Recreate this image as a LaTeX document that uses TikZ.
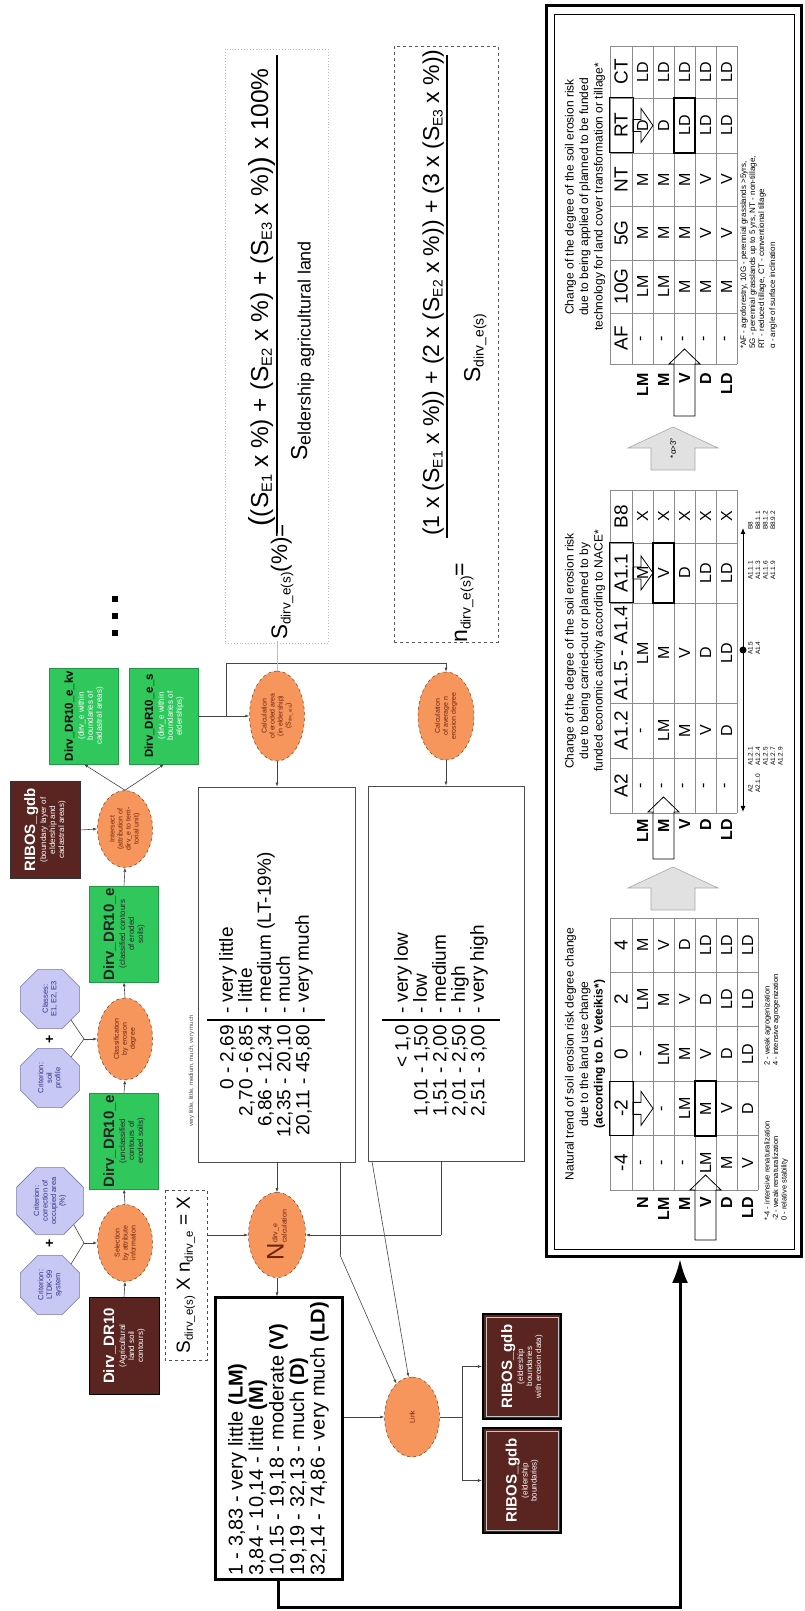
\documentclass[tikz,border=0pt]{standalone}
\usepackage{fontspec}
\setmainfont{Liberation Sans}
\usepackage{graphicx}
\usetikzlibrary{shapes.geometric,arrows.meta,calc}
\definecolor{brn}{RGB}{90,36,32}
\definecolor{grn}{RGB}{48,200,92}
\definecolor{org}{RGB}{247,150,92}
\definecolor{orgd}{RGB}{120,60,30}
\definecolor{lav}{RGB}{200,200,245}
\definecolor{lavd}{RGB}{120,120,170}
\definecolor{octtxt}{RGB}{50,50,130}
\definecolor{elltxt}{RGB}{110,35,10}
\definecolor{conncol}{RGB}{70,70,70}
\definecolor{tgridc}{RGB}{140,140,140}
\definecolor{garrow}{RGB}{225,225,225}
\newcommand{\fsz}[2]{\fontsize{#1}{#2}\selectfont}
\newcommand{\lsub}[2][0.6]{\raisebox{-0.3ex}{\scalebox{#1}{#2}}}
\tikzset{
 brownbox/.style={draw=black, line width=0.8pt, fill=brn, text=white, align=center, minimum width=97, minimum height=70, inner sep=1pt, font=\fsz{8}{9}},
 greenbox/.style={draw=grn!75!black, line width=0.6pt, fill=grn, text=black!85, align=center, minimum width=96, minimum height=69, inner sep=1pt, font=\fsz{8}{9}},
 octnode/.style={regular polygon, regular polygon sides=8, minimum size=64, fill=lav, draw=lavd, line width=0.6pt, text=octtxt, align=center, inner sep=0pt, font=\fsz{7.5}{8.5}},
 ellnode/.style={ellipse, fill=org, draw=orgd, dashed, line width=0.5pt, text=elltxt, align=center, inner sep=0pt, font=\fsz{7}{8}},
 conn/.style={draw=conncol, line width=0.6pt},
 arr/.style={conn, -{Latex[length=4pt,width=3pt]}},
 tgrid/.style={draw=tgridc, line width=0.6pt},
 cellt/.style={font=\fsz{16}{16}, inner sep=0pt},
 headt/.style={font=\fsz{19}{19}, inner sep=0pt},
 rowlab/.style={font=\bfseries\fsz{16}{16}, anchor=east, inner sep=0pt},
 hollow/.style={draw=black, line width=0.8pt},
 smallnote/.style={font=\fsz{7.5}{8.5}, align=left, anchor=north west, inner sep=0pt},
 formula/.style={anchor=base west, inner sep=0pt, font=\fsz{23}{23}},
}
\begin{document}
\begin{tikzpicture}
\begin{scope}[x=1pt,y=-1pt,rotate=90,transform shape]
\fill[white] (0,0) rectangle (1611,804);
\useasboundingbox (0,0) rectangle (1611,804);

% ---------- octagons ----------
\node[octnode] (oltdk) at (326,50) {Criterion:\\LTDK-99\\system};
\node[octnode] (ocorr) at (410,50) {Criterion:\\correction of\\occupied area\\(\%)};
\node[font=\bfseries\fsz{14}{14}, inner sep=0pt] (plus1) at (368,50) {+};
\node[octnode] (osoil) at (533,50) {Criterion:\\soil\\profile};
\node[octnode] (oclass) at (612,50) {Classes:\\E1, E2, E3};
\node[font=\bfseries\fsz{14}{14}, inner sep=0pt] (plus2) at (572,50) {+};
\coordinate (j1) at (368,84);
\coordinate (j2) at (572,84);

% ---------- main flow row ----------
\node[brownbox] (dr10) at (265,124) {{\bfseries\fsz{15}{17}Dirv\_DR10}\\[2pt](Agricultural\\land soil\\contours)};
\node[ellnode, minimum width=77, minimum height=55] (sel) at (368,125) {Selection\\by attribute\\information};
\node[greenbox] (eun) at (470,124) {{\bfseries\fsz{15}{17}Dirv\_DR10\_e}\\[2pt](unclassified\\contours of\\eroded soils)};
\node[ellnode, minimum width=82, minimum height=55] (cls) at (572,125) {Classification\\by erosion\\degree};
\node[greenbox] (ecl) at (677,124) {{\bfseries\fsz{15}{17}Dirv\_DR10\_e}\\[2pt](classified contours\\of eroded\\soils)};
\node[ellnode, minimum width=77, minimum height=55] (inter) at (782,125) {Intersect\\(attribution of\\dirv\_e to terri-\\torial unit)};
\node[brownbox, draw=black!80] (rib) at (781,45) {{\bfseries\fsz{15}{17}RIBOS\_gdb}\\[2pt](boundary layer of\\eldership and\\cadastral areas)};
\node[greenbox, text=white] (kv) at (895,84) {{\bfseries\fsz{11.5}{13}\color{black}Dirv\_DR10\_e\_kv}\\[2pt](dirv\_e within\\boundaries of\\cadastral areas)};
\node[greenbox, text=white] (es) at (895,164) {{\bfseries\fsz{11.5}{13}\color{black}Dirv\_DR10\_e\_s}\\[2pt](dirv\_e within\\boundaries of\\elderships)};
\fill (975,112) rectangle (981,118);
\fill (992,112) rectangle (998,118);
\fill (1009,112) rectangle (1015,118);

\draw[arr] (dr10.east) -- (sel.west);
\draw[arr] (sel.east) -- (eun.west);
\draw[arr] (eun.east) -- (cls.west);
\draw[arr] (cls.east) -- (ecl.west);
\draw[arr] (ecl.east) -- (inter.west);
\draw[arr] (rib.south) -- (inter.north);
\draw[arr] (inter.east) -- (kv.west);
\draw[arr] (inter.east) -- (es.west);
\draw[conn] (oltdk.-45) -- (j1) -- (ocorr.-135);
\draw[arr] (j1) -- (sel.north);
\draw[conn] (osoil.-45) -- (j2) -- (oclass.-135);
\draw[arr] (j2) -- (cls.north);

% ---------- calculations ----------
\node[ellnode, minimum width=90, minimum height=55] (calc1) at (895,277) {Calculation\\of eroded area\\(in eldership)\\(S\lsub{dirv\_e(s)})};
\node[ellnode, minimum width=88, minimum height=56] (calc2) at (895,446) {Calculation\\of average n\\erosion degree};
\draw[arr] (es.south) -- (calc1.north);
\draw[conn] (895,226) -- (948,226) -- (948,446);
\draw[arr] (948,446) -- (calc2.east);
\draw[draw=gray!50, line width=0.5pt] (calc1.east) -- (970,277);

% ---------- formulas ----------
\draw[gray!55, dotted, line width=0.9pt] (968,225) rectangle (1562,328);
\node[formula, font=\fsz{22.5}{22.5}] (slab) at (971,287) {S\lsub{dirv\_e(s)}(\%)=};
\node[formula, font=\fsz{24.5}{24.5}] (snum) at (1084,268) {\raisebox{-1pt}{\fsz{29}{29}(}(S\lsub{E1} x \%) + (S\lsub{E2} x \%) + (S\lsub{E3} x \%)\raisebox{-1pt}{\fsz{29}{29})} x 100\%};
\draw[line width=1.2pt] (1078,277) -- (1556,277);
\node[formula] (sden) at (1150,307) {S\lsub[0.78]{eldership agricultural land}};

\draw[gray!70!black, dashed, line width=0.6pt] (969,394) rectangle (1565,498);
\node[formula] (nlab) at (968,467) {n\lsub{dirv\_e(s)}=};
\node[formula] (nnum) at (1075,439) {(1 x (S\lsub{E1} x \%)) + (2 x (S\lsub{E2} x \%)) + (3 x (S\lsub{E3} x \%))};
\draw[line width=1.2pt] (1073,447) -- (1556,447);
\node[formula] (nden) at (1228,480) {S\lsub{dirv\_e(s)}};

% ---------- classification boxes ----------
\node[draw=black!70, line width=0.8pt, minimum width=375, minimum height=157] (sbox) at (636.5,276.5) {};
\draw[line width=1.6pt] (591,207) -- (591,325);
\node[anchor=east, align=right, font=\fsz{19}{19}, inner sep=0pt] (snums) at (586,266) {0 - 2,69\\2,70 - 6,85\\6,86 - 12,34\\12,35 - 20,10\\20,11 - 45,80};
\node[anchor=west, align=left, font=\fsz{19}{19}, inner sep=0pt] (slabs) at (597,266) {- very little\\- little\\- medium (LT-19\%)\\- much\\- very much};
\node[anchor=base west, font=\fsz{6}{6}, text=black!70, inner sep=0pt] (vlittle) at (484,193) {very little, little, medium, much, very much};

\node[draw=black!70, line width=0.8pt, minimum width=375, minimum height=156] (nbox) at (637.5,446) {};
\draw[line width=1.6pt] (591,382) -- (591,500);
\node[anchor=east, align=right, font=\fsz{19}{19}, inner sep=0pt] (nnums) at (586,441) {< 1,0\\1,01 - 1,50\\1,51 - 2,00\\2,01 - 2,50\\2,51 - 3,00};
\node[anchor=west, align=left, font=\fsz{19}{19}, inner sep=0pt] (nlabs) at (597,441) {- very low\\- low\\- medium\\- high\\- very high};

\draw[arr] (calc1.west) -- (sbox.east |- calc1.west);
\draw[arr] (calc2.west) -- (nbox.east |- calc2.west);

% ---------- N calculation, legend, link ----------
\node[ellnode, minimum width=85, minimum height=57] (ncalc) at (376,277) {\fsz{24}{24}N\raisebox{-3pt}{\fsz{7}{8}\shortstack[l]{dirv\_e\\calculation}}};
\node[draw=black!70, dashed, line width=0.6pt, minimum width=170, minimum height=42, font=\fsz{19}{19}, inner sep=0pt] (dbox) at (336,186) {S\lsub{dirv\_e(s)} X n\lsub{dirv\_e} = X};
\node[draw, line width=3pt, minimum width=282, minimum height=127, align=left, font=\fsz{20}{20.5}, inner sep=2pt] (legend) at (172,278.5) {1 - 3,83 - very little \textbf{(LM)}\\3,84 - 10,14 - little \textbf{(M)}\\10,15 - 19,18 - moderate \textbf{(V)}\\19,19 - 32,13 - much \textbf{(D)}\\32,14 - 74,86 - very much \textbf{(LD)}};
\node[ellnode, minimum width=80, minimum height=55] (link) at (194,412) {Link};
\node[brownbox, line width=2.2pt, minimum width=105, minimum height=78] (rb1) at (244.5,522) {{\bfseries\fsz{15}{17}RIBOS\_gdb}\\[2pt](eldership\\boundaries\\with erosion data)};
\node[brownbox, line width=2.2pt, minimum width=105, minimum height=78] (rb2) at (130.5,522) {{\bfseries\fsz{15}{17}RIBOS\_gdb}\\[2pt](eldership\\boundaries)};
\draw[gray!45, line width=0.9pt] (195,486) rectangle (294,558);
\draw[gray!45, line width=0.9pt] (81,486) rectangle (180,558);

\draw[arr] (sbox.west |- ncalc.east) -- (ncalc.east);
\draw[arr] (dbox.south -| ncalc.north) -- (ncalc.north);
\draw[conn] (nbox.west |- 0,441) -- (376,441);
\draw[arr] (376,441) -- (ncalc.south);
\draw[arr] (ncalc.west) -- (legend.east |- ncalc.west);
\draw[arr] (legend.south -| link.north) -- (link.north);
\draw[conn] (449,340) -- (356,340);
\draw[arr] (356,340) -- (link.25);
\draw[arr] (nbox.west |- 0,372) -- (link.5);
\draw[conn] (link.south) -- (194,462);
\draw[conn] (130.5,462) -- (244.5,462);
\draw[arr] (130.5,462) -- (rb2.north);
\draw[arr] (244.5,462) -- (rb1.north);

% ---------- big frame ----------
\draw[line width=3pt] (354,546) rectangle (1605,801);
\draw[line width=0.8pt] (362,554) rectangle (1597,794);
\draw[line width=3pt, -{Latex[length=24pt,width=16pt]}] (legend.west) -- (3,278.5) -- (3,680) -- (352,680);

% ---------- table 1 ----------
\node[align=center, font=\fsz{12}{14.5}, inner sep=0pt] (t1title) at (557,585) {Natural trend of soil erosion risk degree change\\due to the land use change\\\textbf{(according to D. Veteikis*)}};
\foreach \x in {421,475.4,529.8,584.2,638.6,693} \draw[tgrid] (\x,610) -- (\x,758);
\foreach \y in {610,632,653,674,695,716,737,758} \draw[tgrid] (421,\y) -- (693,\y);
\foreach \cx/\h [count=\i] in {448.2/-4,502.6/-2,557/0,611.4/2,665.8/4} \node[headt] (ta-h\i) at (\cx,621) {\h};
\foreach \cx/\pa/\pb/\pc/\pd/\pe/\pf [count=\i] in {448.2/-/-/-/LM/M/V, 502.6/{}/-/LM/M/V/D, 557/-/LM/M/V/D/LD, 611.4/LM/M/V/D/LD/LD, 665.8/M/V/D/LD/LD/LD} {
 \node[cellt] (ta-\i-1) at (\cx,642.5) {\pa};
 \node[cellt] (ta-\i-2) at (\cx,663.5) {\pb};
 \node[cellt] (ta-\i-3) at (\cx,684.5) {\pc};
 \node[cellt] (ta-\i-4) at (\cx,705.5) {\pd};
 \node[cellt] (ta-\i-5) at (\cx,726.5) {\pe};
 \node[cellt] (ta-\i-6) at (\cx,747.5) {\pf};
}
\foreach \y/\l [count=\i] in {642.5/N,663.5/LM,684.5/M,705.5/V,726.5/D,747.5/LD} \node[rowlab] (ta-l\i) at (414,\y) {\l};
\draw[line width=1pt] (475.4,609) rectangle (529.8,633);
\draw[line width=2pt] (475.4,695) rectangle (529.8,716);
\draw[hollow, shift={(502.6,633)}] (-6,0) -- (6,0) -- (6,8) -- (17,8) -- (0,20) -- (-17,8) -- (-6,8) -- cycle;
\draw[hollow, shift={(421,705.5)}] (-50,-10.5) -- (0,-10.5) -- (0,-15.5) -- (15,0) -- (0,15.5) -- (0,10.5) -- (-50,10.5) -- cycle;
\node[smallnote] (t1n1) at (390,764) {*-4 - intensive renaturalization\\-2 - weak renaturalization\\0 - relative stability};
\node[smallnote] (t1n2) at (545,764) {2 - weak agrogenization\\4 - intensive agrogenization};

% gray arrow 1
\draw[fill=garrow, draw=gray!70, line width=0.6pt, shift={(723,673)}] (-22,-22) -- (0,-22) -- (0,-45) -- (21,0) -- (0,45) -- (0,22) -- (-22,22) -- cycle;

% ---------- table 2 ----------
\node[align=center, font=\fsz{12}{14.5}, inner sep=0pt] (t2title) at (960,585) {Change of the degree of the soil erosion risk\\due to being carried-out or planned to by\\funded economic activity according to NACE*};
\foreach \x in {798,853,908,1008,1068,1121} \draw[tgrid] (\x,610) -- (\x,737);
\foreach \y in {610,632,653,674,695,716,737} \draw[tgrid] (798,\y) -- (1121,\y);
\foreach \cx/\h [count=\i] in {825.5/A2,880.5/A1.2,958/A1.5 - A1.4,1038/A1.1,1094.5/B8} \node[headt] (tb-h\i) at (\cx,621) {\h};
\foreach \cx/\pa/\pb/\pc/\pd/\pe [count=\i] in {825.5/-/-/-/-/-, 880.5/-/LM/M/V/D, 958/LM/M/V/D/LD, 1038/M/V/D/LD/LD, 1094.5/X/X/X/X/X} {
 \node[cellt] (tb-\i-1) at (\cx,642.5) {\pa};
 \node[cellt] (tb-\i-2) at (\cx,663.5) {\pb};
 \node[cellt] (tb-\i-3) at (\cx,684.5) {\pc};
 \node[cellt] (tb-\i-4) at (\cx,705.5) {\pd};
 \node[cellt] (tb-\i-5) at (\cx,726.5) {\pe};
}
\foreach \y/\l [count=\i] in {642.5/LM,663.5/M,684.5/V,705.5/D,726.5/LD} \node[rowlab] (tb-l\i) at (792,\y) {\l};
\draw[line width=1pt] (1008,609) rectangle (1068,633);
\draw[line width=2pt] (1008,653) rectangle (1068,674);
\draw[hollow, shift={(1038,633)}] (-6,0) -- (6,0) -- (6,8) -- (17,8) -- (0,20) -- (-17,8) -- (-6,8) -- cycle;
\draw[hollow, shift={(799,663.5)}] (-47,-10.5) -- (0,-10.5) -- (0,-15.5) -- (15,0) -- (0,15.5) -- (0,10.5) -- (-47,10.5) -- cycle;
\draw[line width=1pt, {Latex[length=6pt,width=5pt]}-{Latex[length=6pt,width=5pt]}] (799,743) -- (1083,743);
\fill (961,743) circle (3.5);
\begin{scope}[font=\fsz{6.5}{7.5}]
\node[align=left, anchor=north west, inner sep=0pt] (ax1) at (818,748) {A2\\A2.1.0};
\node[align=left, anchor=north west, inner sep=0pt] (ax2) at (845,748) {A1.2.1\\A1.2.4\\A1.2.5\\A1.2.7\\A1.2.9};
\node[align=left, anchor=north west, inner sep=0pt] (ax3) at (956,748) {A1.5\\A1.4};
\node[align=left, anchor=north west, inner sep=0pt] (ax4) at (1031,748) {A1.1.1\\A1.1.3\\A1.1.6\\A1.1.9};
\node[align=left, anchor=north west, inner sep=0pt] (ax5) at (1081,748) {B8\\B8.1.1\\B8.1.2\\B8.9.2};
\end{scope}

% gray arrow 2
\draw[fill=garrow, draw=gray!70, line width=0.6pt, shift={(1163,673)}] (-22,-22) -- (0,-22) -- (0,-45) -- (21,0) -- (0,45) -- (0,22) -- (-22,22) -- cycle;
\node[font=\fsz{8}{8}, inner sep=0pt] (alpha) at (1163,673) {*α>3°};

% ---------- table 3 ----------
\node[align=center, font=\fsz{12}{14.5}, inner sep=0pt] (t3title) at (1414,585) {Change of the degree of the soil erosion risk\\due to being applied of planned to be funded\\technology for land cover transformation or tillage*};
\foreach \x in {1247,1298,1351,1405,1458,1513,1565} \draw[tgrid] (\x,610) -- (\x,737);
\foreach \y in {610,632,653,674,695,716,737} \draw[tgrid] (1247,\y) -- (1565,\y);
\foreach \cx/\h [count=\i] in {1272.5/AF,1324.5/10G,1378/5G,1431.5/NT,1485.5/RT,1539/CT} \node[headt] (tc-h\i) at (\cx,621) {\h};
\foreach \cx/\pa/\pb/\pc/\pd/\pe [count=\i] in {1272.5/-/-/-/-/-, 1324.5/LM/LM/M/M/M, 1378/M/M/M/V/V, 1431.5/M/M/M/V/V, 1485.5/D/D/LD/LD/LD, 1539/LD/LD/LD/LD/LD} {
 \node[cellt] (tc-\i-1) at (\cx,642.5) {\pa};
 \node[cellt] (tc-\i-2) at (\cx,663.5) {\pb};
 \node[cellt] (tc-\i-3) at (\cx,684.5) {\pc};
 \node[cellt] (tc-\i-4) at (\cx,705.5) {\pd};
 \node[cellt] (tc-\i-5) at (\cx,726.5) {\pe};
}
\foreach \y/\l [count=\i] in {642.5/LM,663.5/M,684.5/V,705.5/D,726.5/LD} \node[rowlab] (tc-l\i) at (1238,\y) {\l};
\draw[line width=1pt] (1458,609) rectangle (1513,633);
\draw[line width=2pt] (1458,674) rectangle (1513,695);
\draw[hollow, shift={(1485.5,633)}] (-6,0) -- (6,0) -- (6,8) -- (17,8) -- (0,20) -- (-17,8) -- (-6,8) -- cycle;
\draw[hollow, shift={(1247,684.5)}] (-52,-10.5) -- (0,-10.5) -- (0,-15.5) -- (15,0) -- (0,15.5) -- (0,10.5) -- (-52,10.5) -- cycle;
\node[smallnote, font=\fsz{8}{9}] (t3n) at (1262,740) {*AF - agroforestry, 10G - perennial grasslands >5yrs,\\5G - perennial grasslands up to 5 yrs, NT - non-tillage,\\RT - reduced tillage, CT - conventional tillage\\[2pt]α - angle of surface inclination};
\end{scope}
\end{tikzpicture}
\end{document}
